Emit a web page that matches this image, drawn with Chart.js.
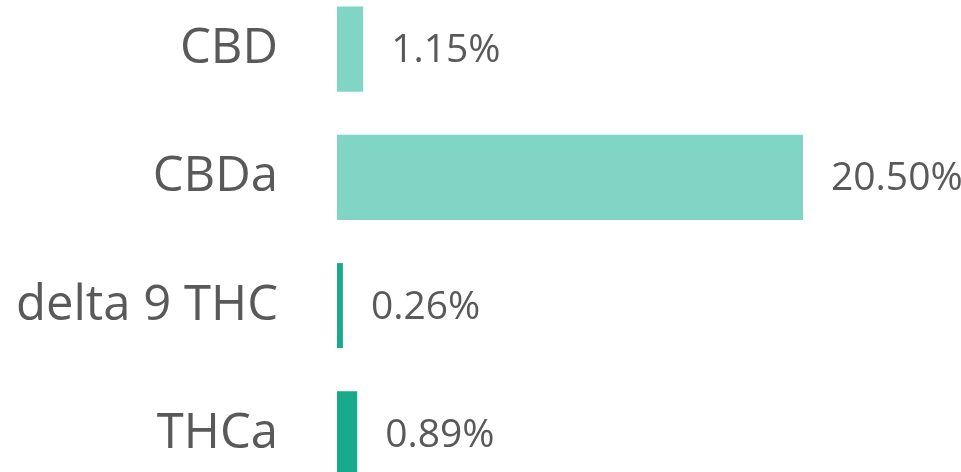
<!DOCTYPE html>
<html>
<head>
<meta charset="utf-8">
<script src="https://cdn.jsdelivr.net/npm/chart.js@4.4.1/dist/chart.umd.min.js"></script>
<style>
  html, body { margin: 0; padding: 0; background: #fff; overflow: hidden; }
  #wrap { position: relative; width: 961px; height: 472px; overflow: hidden; }
  #cannabinoidChart { position: absolute; left: 0; top: -15px; }
</style>
</head>
<body>
<div id="wrap">
  <canvas id="cannabinoidChart" width="961" height="513"></canvas>
</div>
<script>
// chart data
const categories = ['CBD', 'CBDa', 'delta 9 THC', 'THCa'];
const percentValues = [1.15, 20.50, 0.26, 0.89];
const valueLabels = ['1.15%', '20.50%', '0.26%', '0.89%'];
const barColors = ['#80d5c5', '#80d5c5', '#19a98b', '#19a98b'];

// value labels to the right of each bar
const barValueLabels = {
    id: 'barValueLabels',
    afterDatasetsDraw(chart) {
        const ctx = chart.ctx;
        const meta = chart.getDatasetMeta(0);
        ctx.save();
        ctx.font = '39px "Open Sans"';
        ctx.fillStyle = '#595959';
        ctx.textAlign = 'left';
        ctx.textBaseline = 'middle';
        meta.data.forEach(function(bar, i) {
            ctx.fillText(valueLabels[i], bar.x + 28, bar.y + 2);
        });
        ctx.restore();
    }
};

const ctx = document.getElementById('cannabinoidChart').getContext('2d');
new Chart(ctx, {
    type: 'bar',
    data: {
        labels: categories,
        datasets: [{
            data: percentValues,
            backgroundColor: barColors,
            barPercentage: 0.663,
            categoryPercentage: 1
        }]
    },
    options: {
        indexAxis: 'y',
        responsive: false,
        animation: false,
        layout: { padding: 0 },
        plugins: {
            legend: { display: false },
            tooltip: { enabled: false }
        },
        scales: {
            x: {
                display: false,
                min: 0,
                max: 27.45
            },
            y: {
                grid: { display: false, drawTicks: false },
                border: { display: false },
                ticks: {
                    padding: 59,
                    color: '#595959',
                    font: { family: 'Open Sans', size: 49 }
                },
                afterFit(scale) {
                    // keep the axis width fixed and drop the label padding above/below
                    scale.width = 337;
                    scale.paddingTop = 0;
                    scale.paddingBottom = 0;
                }
            }
        }
    },
    plugins: [barValueLabels]
});
</script>
</body>
</html>
